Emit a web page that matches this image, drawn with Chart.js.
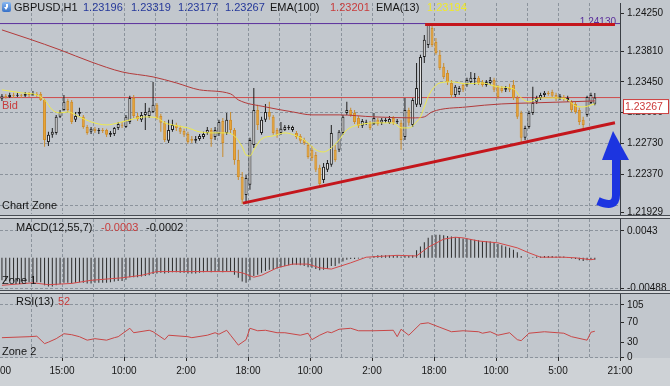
<!DOCTYPE html>
<html>
<head>
<meta charset="utf-8">
<title>GBPUSD,H1</title>
<script src="https://cdn.jsdelivr.net/npm/chart.js@4.4.1/dist/chart.umd.min.js"></script>
<style>
  html, body { margin: 0; padding: 0; }
  body { position: relative; width: 670px; height: 386px; overflow: hidden; background: #c2c7cd; font-family: 'Liberation Sans', Arial, sans-serif; }
  canvas { position: absolute; left: 0; z-index: 2; }
  #cMain { top: 0; }
  #cMacd { top: 219px; }
  #cRsi { top: 294px; }
  .sep { position: absolute; left: 0; width: 670px; height: 2px; background: #d5d8db; border-top: 1px solid #474c53; border-bottom: 1px solid #474c53; z-index: 3; }
  #strip { position: absolute; left: 0; top: 358px; width: 670px; height: 28px; background: #ced2d6; z-index: 1; }
  .t { position: absolute; font-size: 11px; line-height: 13px; white-space: nowrap; color: #141414; z-index: 4; }
  .blue { color: #25389a; }
  .red { color: #c83c3c; }
  .yel { color: #f0ea28; }
  #icon { position: absolute; left: 2px; top: 2px; width: 9px; height: 10px; border-radius: 2px; background: linear-gradient(#8ab8f0, #3570c8); z-index: 4; }
  #icon::before { content: ''; position: absolute; left: 3.5px; top: 2px; width: 2px; height: 3px; background: #fff; }
  #icon::after { content: ''; position: absolute; left: 2px; top: 5px; border-left: 2.5px solid transparent; border-right: 2.5px solid transparent; border-top: 3px solid #fff; }
</style>
</head>
<body>
<canvas id="cMain" width="670" height="215"></canvas>
<div class="sep" style="top:215px"></div>
<canvas id="cMacd" width="670" height="71"></canvas>
<div class="sep" style="top:290px"></div>
<div id="strip"></div>
<canvas id="cRsi" width="670" height="92"></canvas>

<div id="icon"></div>
<div class="t" style="left:14px;top:1px">GBPUSD,H1</div>
<div class="t blue" style="left:83px;top:1px">1.23196</div>
<div class="t blue" style="left:131px;top:1px">1.23319</div>
<div class="t blue" style="left:178px;top:1px">1.23177</div>
<div class="t blue" style="left:225px;top:1px">1.23267</div>
<div class="t" style="left:270px;top:1px">EMA(100)</div>
<div class="t red" style="left:330px;top:1px">1.23201</div>
<div class="t" style="left:376px;top:1px">EMA(13)</div>
<div class="t yel" style="left:427px;top:1px">1.23194</div>
<div class="t red" style="left:2px;top:99px">Bid</div>
<div class="t" style="left:2px;top:199px">Chart Zone</div>
<div class="t" style="left:16px;top:221px">MACD(12,55,7)</div>
<div class="t red" style="left:101px;top:221px">-0.0003</div>
<div class="t" style="left:146px;top:221px">-0.0002</div>
<div class="t" style="left:2px;top:274px">Zone 1</div>
<div class="t" style="left:16px;top:295px">RSI(13)</div>
<div class="t red" style="left:58px;top:295px">52</div>
<div class="t" style="left:2px;top:345px">Zone 2</div>
<div class="t" style="left:0px;top:365px;font-size:10px;line-height:12px">00</div>

<script>
// GBPUSD H1 candles, bar 0 = left edge
const openPx = [
  1.23252,1.23287,1.23275,1.23298,1.23287,1.23298,1.23287,1.23310,1.23298,1.23310,
  1.23310,1.23240,1.22750,1.22832,1.22855,1.23042,1.23123,1.23228,1.23217,1.23007,
  1.23077,1.23042,1.22925,1.22867,1.22902,1.22878,1.22890,1.22890,1.22832,1.22843,
  1.22913,1.22948,1.22925,1.22983,1.23263,1.23053,1.23007,1.23065,1.23053,1.23100,
  1.23182,1.23053,1.22972,1.22762,1.22890,1.22948,1.22913,1.22878,1.22843,1.22785,
  1.22762,1.22785,1.22808,1.22855,1.22890,1.22808,1.22843,1.22995,1.22855,1.23007,
  1.22890,1.22540,1.22342,1.22132,1.22249,1.22715,1.23123,1.22855,1.23007,1.23100,
  1.23042,1.22890,1.22855,1.22890,1.22913,1.22890,1.22855,1.22820,1.22773,1.22715,
  1.22657,1.22598,1.22447,1.22307,1.22424,1.22482,1.22657,1.22657,1.22855,1.23088,
  1.23123,1.23088,1.23030,1.22937,1.22972,1.22972,1.22960,1.23007,1.22972,1.22995,
  1.22972,1.23030,1.22983,1.22972,1.22808,1.23123,1.22948,1.23182,1.23182,1.23741,
  1.23881,1.24079,1.23916,1.23765,1.23625,1.23555,1.23438,1.23298,1.23333,1.23415,
  1.23415,1.23450,1.23485,1.23497,1.23450,1.23415,1.23438,1.23473,1.23392,1.23380,
  1.23357,1.23380,1.23415,1.23263,1.23088,1.22797,1.22925,1.23088,1.23217,1.23263,
  1.23298,1.23322,1.23333,1.23298,1.23263,1.23275,1.23240,1.23217,1.23193,1.23123,
  1.23007,1.23065,1.23205,1.23196
];
const highPx = [
  1.23310,1.23310,1.23322,1.23322,1.23322,1.23310,1.23333,1.23333,1.23345,1.23333,
  1.23333,1.23252,1.22867,1.22913,1.23065,1.23123,1.23298,1.23252,1.23240,1.23100,
  1.23147,1.23065,1.22948,1.22925,1.22925,1.22913,1.22913,1.22902,1.22878,1.22925,
  1.22983,1.22983,1.23065,1.23287,1.23298,1.23088,1.23100,1.23205,1.23147,1.23450,
  1.23205,1.23077,1.22995,1.23007,1.23007,1.22972,1.22937,1.22902,1.22867,1.22820,
  1.22820,1.22843,1.22867,1.22925,1.22913,1.22925,1.23007,1.23030,1.23088,1.23100,
  1.22913,1.22657,1.22400,1.22365,1.22797,1.23380,1.23182,1.23042,1.23193,1.23217,
  1.23065,1.22913,1.22983,1.22948,1.22948,1.22937,1.22878,1.22843,1.22797,1.22738,
  1.22703,1.22633,1.22482,1.22505,1.22540,1.22948,1.22715,1.22890,1.23065,1.23217,
  1.23147,1.23123,1.23053,1.23018,1.23007,1.22995,1.23088,1.23030,1.23030,1.23030,
  1.23053,1.23053,1.23018,1.23007,1.23263,1.23147,1.23263,1.23671,1.23765,1.23998,
  1.24130,1.24114,1.23963,1.23823,1.23671,1.23590,1.23473,1.23415,1.23403,1.23438,
  1.23497,1.23566,1.23555,1.23520,1.23473,1.23473,1.23508,1.23497,1.23415,1.23403,
  1.23403,1.23427,1.23473,1.23287,1.23112,1.22937,1.23112,1.23392,1.23287,1.23322,
  1.23345,1.23345,1.23357,1.23322,1.23310,1.23298,1.23287,1.23240,1.23217,1.23147,
  1.23042,1.23287,1.23322,1.23319
];
const lowPx = [
  1.23228,1.23252,1.23263,1.23263,1.23275,1.23263,1.23275,1.23275,1.23287,1.23275,
  1.23228,1.22692,1.22703,1.22797,1.22832,1.23030,1.23112,1.23100,1.22960,1.22983,
  1.23053,1.22902,1.22832,1.22843,1.22855,1.22843,1.22855,1.22808,1.22808,1.22820,
  1.22890,1.22913,1.22913,1.22960,1.23030,1.22995,1.22983,1.22890,1.23030,1.23088,
  1.23007,1.22867,1.22750,1.22738,1.22867,1.22878,1.22843,1.22808,1.22727,1.22738,
  1.22738,1.22762,1.22785,1.22832,1.22692,1.22773,1.22820,1.22575,1.22832,1.22855,
  1.22482,1.22307,1.22027,1.22039,1.22191,1.22680,1.22890,1.22832,1.22983,1.23007,
  1.22832,1.22797,1.22832,1.22878,1.22890,1.22867,1.22785,1.22738,1.22715,1.22552,
  1.22528,1.22400,1.22225,1.22272,1.22400,1.22459,1.22517,1.22633,1.22832,1.23065,
  1.23042,1.22960,1.22913,1.22913,1.22948,1.22890,1.22948,1.22937,1.22948,1.22972,
  1.22960,1.22948,1.22960,1.22657,1.22773,1.22937,1.22925,1.23158,1.23158,1.23671,
  1.23846,1.23858,1.23765,1.23590,1.23485,1.23415,1.23263,1.23275,1.23298,1.23333,
  1.23392,1.23427,1.23415,1.23415,1.23392,1.23392,1.23415,1.23333,1.23252,1.23322,
  1.23333,1.23333,1.23240,1.23018,1.22750,1.22773,1.22902,1.23065,1.23193,1.23240,
  1.23275,1.23287,1.23263,1.23228,1.23240,1.23228,1.23217,1.23100,1.23077,1.22948,
  1.22890,1.23042,1.23193,1.23177
];
const closePx = [
  1.23287,1.23275,1.23298,1.23287,1.23298,1.23287,1.23310,1.23298,1.23310,1.23298,
  1.23240,1.22773,1.22832,1.22867,1.23042,1.23100,1.23217,1.23123,1.22983,1.23053,
  1.23100,1.22925,1.22855,1.22902,1.22878,1.22890,1.22878,1.22832,1.22855,1.22913,
  1.22960,1.22937,1.23042,1.23263,1.23053,1.23018,1.23065,1.23100,1.23112,1.23182,
  1.23030,1.22972,1.22773,1.22890,1.22948,1.22913,1.22867,1.22832,1.22750,1.22762,
  1.22785,1.22820,1.22843,1.22890,1.22785,1.22890,1.22983,1.22738,1.23007,1.22890,
  1.22540,1.22342,1.22074,1.22330,1.22773,1.23123,1.22948,1.23007,1.23100,1.23042,
  1.22855,1.22832,1.22902,1.22925,1.22925,1.22925,1.22808,1.22762,1.22738,1.22575,
  1.22563,1.22424,1.22260,1.22459,1.22505,1.22855,1.22540,1.22867,1.23042,1.23123,
  1.23065,1.22983,1.22937,1.22995,1.22983,1.22913,1.23030,1.22960,1.23007,1.23007,
  1.23018,1.22972,1.22995,1.22773,1.23123,1.22972,1.23240,1.23380,1.23741,1.23940,
  1.24114,1.23881,1.23788,1.23613,1.23508,1.23450,1.23298,1.23392,1.23380,1.23357,
  1.23473,1.23497,1.23497,1.23438,1.23415,1.23450,1.23473,1.23357,1.23275,1.23345,
  1.23380,1.23357,1.23263,1.23042,1.22797,1.22913,1.23088,1.23205,1.23263,1.23298,
  1.23322,1.23310,1.23287,1.23252,1.23287,1.23252,1.23263,1.23123,1.23100,1.22983,
  1.22948,1.23275,1.23298,1.23267
];

// moving averages, read at selected bars
const ema13Bars = [0,5,9,11,13,15,17,20,23,27,30,34,37,40,42,44,48,51,55,58,60,62,63,64,65,67,70,73,76,79,
  81,83,85,87,89,92,97,101,103,105,107,108,109,110,111,113,116,120,124,128,132,134,136,139,143,146,148,150,153];
const ema13Vals = [1.23357,1.23322,1.23298,1.23240,1.23123,1.23088,1.23100,1.23042,1.22983,1.22948,
  1.22972,1.23018,1.23042,1.23030,1.22972,1.22948,1.22913,1.22867,1.22855,1.22855,
  1.22820,1.22692,1.22598,1.22587,1.22657,1.22785,1.22820,1.22855,1.22820,1.22738,
  1.22657,1.22633,1.22680,1.22773,1.22890,1.22948,1.22972,1.22972,1.22913,1.22913,
  1.22983,1.23042,1.23158,1.23275,1.23357,1.23438,1.23450,1.23427,1.23438,1.23392,
  1.23368,1.23263,1.23217,1.23263,1.23263,1.23240,1.23170,1.23158,1.23194];
const ema100Bars = [0,7,15,23,31,39,45,51,59,61,68,75,80,87,96,106,109,111,120,129,137,146,153];
const ema100Vals = [1.24056,1.23951,1.23823,1.23683,1.23566,1.23508,1.23438,1.23357,1.23310,1.23240,
  1.23158,1.23100,1.23065,1.23065,1.23042,1.23030,1.23042,1.23100,1.23158,1.23193,1.23205,1.23217,1.23228];

// drawn objects
const lowerTrendBars = [62.2, 158.2];
const lowerTrendPx = [1.22036, 1.22974];
const upperTrendBars = [109.2, 158.2];
const upperTrendPx = [1.24120, 1.24120];
const highLevel = 1.24130;
const bidPrice = 1.23267;

// MACD(12,55,7)
const macdHist = [
  -0.0036,-0.0037,-0.0037,-0.0038,-0.0038,-0.0038,-0.0039,-0.0039,-0.0039,-0.0039,
  -0.0039,-0.0044,-0.0046,-0.0046,-0.0044,-0.0042,-0.0040,-0.0040,-0.0041,-0.0040,
  -0.0039,-0.0040,-0.0041,-0.0041,-0.0040,-0.0040,-0.0040,-0.0040,-0.0039,-0.0038,
  -0.0037,-0.0037,-0.0035,-0.0031,-0.0031,-0.0031,-0.0030,-0.0029,-0.0028,-0.0026,
  -0.0025,-0.0024,-0.0025,-0.0024,-0.0023,-0.0023,-0.0024,-0.0024,-0.0025,-0.0025,
  -0.0025,-0.0024,-0.0023,-0.0022,-0.0023,-0.0022,-0.0021,-0.0023,-0.0021,-0.0022,
  -0.0027,-0.0032,-0.0038,-0.0040,-0.0036,-0.0029,-0.0027,-0.0024,-0.0021,-0.0019,
  -0.0019,-0.0017,-0.0015,-0.0013,-0.0012,-0.0011,-0.0011,-0.0012,-0.0013,-0.0015,
  -0.0016,-0.0018,-0.0020,-0.0019,-0.0018,-0.0013,-0.0013,-0.0009,-0.0006,-0.0003,
  -0.0002,-0.0002,-0.0001,-0.0001,0.0000,-0.0001,0.0003,0.0004,0.0004,0.0004,
  0.0004,0.0004,0.0004,0.0002,0.0003,0.0003,0.0004,0.0012,0.0018,0.0025,
  0.0032,0.0036,0.0037,0.0037,0.0036,0.0035,0.0034,0.0033,0.0032,0.0031,
  0.0031,0.0030,0.0029,0.0028,0.0027,0.0027,0.0026,0.0024,0.0022,0.0020,
  0.0018,0.0016,0.0013,0.0009,0.0003,0.0000,-0.0001,0.0001,0.0002,0.0002,
  0.0003,0.0003,0.0003,0.0002,0.0002,0.0002,0.0001,-0.0001,-0.0002,-0.0004,
  -0.0005,-0.0004,-0.0003,-0.0003
];
const signalBars = [0,8,12,18,23,31,36,40,60,62,65,67,71,75,79,82,85,90,94,102,
  107,110,114,117,119,123,128,133,136,139,145,148,152,153];
const signalVals = [-0.0044,-0.0040,-0.0043,-0.0041,-0.0036,-0.0032,-0.0028,-0.0022,-0.0022,-0.0024,
  -0.0031,-0.0028,-0.0016,-0.0010,-0.0010,-0.0016,-0.0018,-0.0008,0.0001,0.0004,
  0.0003,0.0017,0.0030,0.0033,0.0032,0.0027,0.0024,0.0016,0.0008,0.0001,
  0.0001,0.0000,-0.0003,-0.0002];

// RSI(13)
const rsiBars = [0,7,9,11,12,14,16,18,20,22,24,27,29,30,33,34,38,39,42,43,
  48,49,53,55,56,58,59,61,63,64,66,68,71,73,77,79,80,82,84,85,
  87,90,92,96,101,102,103,105,108,110,113,116,119,123,124,126,128,131,133,134,
  136,140,145,147,151,152,153];
const rsiVals = [39,41,42,27,30,37,47,45,41,34,37,34,39,41,58,49,54,51,35,44,
  41,39,44,49,46,54,44,24,35,58,53,54,49,49,44,48,35,44,51,49,
  56,58,53,53,54,41,56,44,67,69,60,51,53,51,48,51,44,49,35,33,
  48,51,48,41,34,50,52];

// axes
const gridBars = [-0.5,7.5,15.5,23.5,31.5,39.5,47.5,55.5,63.5,71.5,79.5,87.5,95.5,103.5,111.5,119.5,127.5,135.5,143.5,151.5,159.5];
const timeLabels = ['15:00','10:00','2:00','18:00','10:00','2:00','18:00','10:00','5:00','21:00'];
const priceTicks = [1.21929,1.22370,1.22730,1.23090,1.23450,1.23810,1.24250];
const priceGrid = [1.22010,1.22370,1.22730,1.23090,1.23450,1.23810];
const macdTicks = [-0.00488,0.0043];
const rsiTicks = [0,30,70,105];

const gridColor = '#8b939c';
const axisColor = '#3a3e44';
const fontFamily = "'Liberation Sans', Arial, sans-serif";

Chart.defaults.font.family = fontFamily;
Chart.defaults.font.size = 10;
Chart.defaults.color = '#161616';

function pts(bars, vals) {
  return bars.map((b, i) => ({ x: b, y: vals[i] }));
}

function isUp(i) {
  return closePx[i] >= openPx[i];
}

function timeAxis(withLabels) {
  return {
    type: 'linear',
    min: -0.5,
    max: 159.5,
    offset: false,
    afterBuildTicks: s => { s.ticks = gridBars.map(v => ({ value: v })); },
    afterFit: s => { s.height = withLabels ? 29 : 0; s.paddingLeft = 0; s.paddingRight = 0; },
    border: { display: false, dash: [3, 2] },
    grid: {
      offset: false,
      color: c => (c.index === 0 || c.index === gridBars.length - 1) ? 'transparent' : gridColor,
      drawTicks: withLabels,
      tickLength: 4,
      tickColor: c => (c.index > 0 && c.index % 2 === 0) ? '#2a2a2a' : 'transparent'
    },
    ticks: {
      display: withLabels,
      autoSkip: false,
      maxRotation: 0,
      minRotation: 0,
      padding: 4,
      callback: (v, i) => (i > 0 && i % 2 === 0) ? timeLabels[i / 2 - 1] : ''
    }
  };
}

function valueAxis(min, max, ticks, label, gridOn) {
  return {
    position: 'right',
    min: min,
    max: max,
    beginAtZero: false,
    afterBuildTicks: s => { s.ticks = ticks.map(v => ({ value: v })); },
    afterFit: s => { s.width = 50; s.paddingTop = 0; s.paddingBottom = 0; },
    border: { display: true, color: axisColor, width: 1, dash: [3, 2] },
    grid: {
      color: c => gridOn(c.tick.value) ? gridColor : 'transparent',
      tickLength: 4,
      tickColor: c => label(c.tick.value) !== '' ? '#2a2a2a' : 'transparent'
    },
    ticks: { autoSkip: false, padding: 3, callback: v => label(v) }
  };
}

const baseOptions = {
  responsive: false,
  animation: false,
  devicePixelRatio: 1,
  events: [],
  plugins: { legend: { display: false }, tooltip: { enabled: false } }
};

// level labels and the hand-drawn arrow
const mainMarks = {
  id: 'mainMarks',
  beforeDatasetsDraw(chart) {
    const { ctx, chartArea, scales: { y } } = chart;
    ctx.save();
    ctx.font = '10px ' + fontFamily;
    ctx.fillStyle = '#5b2e9c';
    ctx.textAlign = 'right';
    ctx.textBaseline = 'alphabetic';
    ctx.fillText(highLevel.toFixed(5), chartArea.right - 4, y.getPixelForValue(highLevel) + 1);
    ctx.restore();
  },
  afterDraw(chart) {
    const { ctx, chartArea, scales: { y } } = chart;
    const r = chartArea.right;
    const by = y.getPixelForValue(bidPrice);
    ctx.save();
    ctx.fillStyle = '#ffffff';
    ctx.fillRect(r + 3, by + 1.5, 46, 15);
    ctx.strokeStyle = '#cc3b3b';
    ctx.lineWidth = 1;
    ctx.strokeRect(r + 3.5, by + 2, 45, 14);
    ctx.fillStyle = '#cc3b3b';
    ctx.font = '10.5px ' + fontFamily;
    ctx.textAlign = 'left';
    ctx.textBaseline = 'middle';
    ctx.fillText(bidPrice.toFixed(5), r + 5, by + 9.5);

    ctx.fillStyle = '#1c34e0';
    ctx.beginPath();
    ctx.moveTo(r - 7, 131);
    ctx.lineTo(r + 9, 160);
    ctx.lineTo(r - 18, 160);
    ctx.closePath();
    ctx.fill();
    ctx.strokeStyle = '#1c34e0';
    ctx.lineWidth = 8;
    ctx.beginPath();
    ctx.moveTo(r - 4, 158);
    ctx.lineTo(r - 4, 195);
    ctx.quadraticCurveTo(r - 4, 209, r - 22, 201);
    ctx.stroke();
    ctx.restore();
  }
};

new Chart(document.getElementById('cMain'), {
  type: 'line',
  data: {
    datasets: [
      { type: 'line', data: pts(lowerTrendBars, lowerTrendPx), borderColor: '#c4161c', borderWidth: 3, pointRadius: 0, order: 0 },
      { type: 'line', data: pts(upperTrendBars, upperTrendPx), borderColor: '#c4161c', borderWidth: 3, pointRadius: 0, order: 0 },
      { type: 'line', data: pts(ema13Bars, ema13Vals), borderColor: '#eeea4a', borderWidth: 1, pointRadius: 0, cubicInterpolationMode: 'monotone', order: 1 },
      { type: 'line', data: pts(ema100Bars, ema100Vals), borderColor: '#b23a3a', borderWidth: 1, pointRadius: 0, cubicInterpolationMode: 'monotone', order: 2 },
      {
        type: 'bar',
        data: closePx.map((c, i) => ({ x: i, y: [openPx[i], c] })),
        barThickness: 3,
        grouped: false,
        minBarLength: 1,
        inflateAmount: 0,
        borderWidth: 1,
        borderSkipped: false,
        backgroundColor: c => isUp(c.dataIndex) ? '#f2f2f2' : '#eaa637',
        borderColor: c => isUp(c.dataIndex) ? '#1e1e1e' : '#cf8d2a',
        order: 3
      },
      {
        type: 'bar',
        data: highPx.map((h, i) => ({ x: i, y: [lowPx[i], h] })),
        barThickness: 1,
        grouped: false,
        inflateAmount: 0,
        borderWidth: 0,
        backgroundColor: c => isUp(c.dataIndex) ? '#1e1e1e' : '#c98c2e',
        order: 4
      },
      { type: 'line', data: pts([-0.5, 159.5], [bidPrice, bidPrice]), borderColor: '#cf4a4a', borderWidth: 1, pointRadius: 0, order: 5 },
      { type: 'line', data: pts([-0.5, 159.5], [highLevel, highLevel]), borderColor: '#5b2e9c', borderWidth: 1, pointRadius: 0, order: 5 }
    ]
  },
  options: Object.assign({}, baseOptions, {
    layout: { padding: { top: 3, bottom: 1, left: 0, right: 0 } },
    scales: {
      x: timeAxis(false),
      y: valueAxis(1.21909, 1.24370,
        priceTicks.concat([1.22010]).sort((a, b) => a - b),
        v => priceTicks.includes(v) ? v.toFixed(5) : '',
        v => priceGrid.includes(v))
    }
  }),
  plugins: [mainMarks]
});

new Chart(document.getElementById('cMacd'), {
  type: 'bar',
  data: {
    datasets: [
      { type: 'line', data: pts(signalBars, signalVals), borderColor: '#d24848', borderWidth: 1, pointRadius: 0, order: 0 },
      {
        type: 'bar',
        data: macdHist.map((v, i) => ({ x: i, y: v })),
        barThickness: 1,
        grouped: false,
        inflateAmount: 0,
        borderWidth: 0,
        backgroundColor: '#2b2b2b',
        order: 1
      }
    ]
  },
  options: Object.assign({}, baseOptions, {
    layout: { padding: 0 },
    scales: {
      x: timeAxis(false),
      y: valueAxis(-0.005152, 0.006222, macdTicks, v => String(v), v => true)
    }
  })
});

new Chart(document.getElementById('cRsi'), {
  type: 'line',
  data: {
    datasets: [
      { data: pts(rsiBars, rsiVals), borderColor: '#c84646', borderWidth: 1, pointRadius: 0 }
    ]
  },
  options: Object.assign({}, baseOptions, {
    layout: { padding: 0 },
    scales: {
      x: timeAxis(true),
      y: valueAxis(0, 127.2, rsiTicks, v => String(v), v => v === 0 || v === 105)
    }
  })
});
</script>
</body>
</html>
